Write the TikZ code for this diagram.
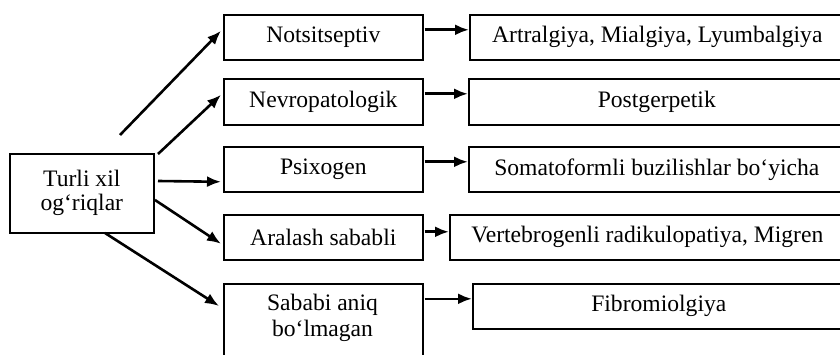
\documentclass[tikz,border=0pt]{standalone}
\usepackage{fontspec}
\setmainfont{Liberation Serif}
\usetikzlibrary{arrows.meta,calc}
\begin{document}
\begin{tikzpicture}[x=1pt,y=-1pt,
  box/.style={draw=black,line width=1.6pt,inner sep=0pt,anchor=north west,align=center,
    font=\fontsize{23.6}{24}\selectfont},
  lbl/.style={inner sep=0pt,align=center,font=\fontsize{23.6}{26}\selectfont},
  arr/.style={line width=2.6pt,-{Latex[length=14pt,width=11pt]}}]
\useasboundingbox (0,0) rectangle (840,355);
\clip (0,0) rectangle (840,355);
\fill[white] (0,0) rectangle (840,355);
% left box
\node[box,minimum width=144pt,minimum height=79pt] (L) at (9,153) {Turli xil\\og‘riqlar};
% middle boxes
\node[box,minimum width=199pt,minimum height=45pt] (m1) at (223,14) {Notsitseptiv};
\node[box,minimum width=199pt,minimum height=46pt] (m2) at (223,78) {Nevropatologik};
\node[box,minimum width=199pt,minimum height=45pt] (m3) at (223,146) {Psixogen};
\node[box,minimum width=199pt,minimum height=45pt] (m4) at (223,214) {Aralash sababli};
\node[box,minimum width=199pt,minimum height=95pt] (m5) at (223,283) {};
\node[lbl,anchor=north] (m5t) at (322.5,294) {Sababi aniq\\bo‘lmagan};
% right boxes
\node[box,minimum width=375pt,minimum height=45pt] (r1) at (469,14) {Artralgiya, Mialgiya, Lyumbalgiya};
\node[box,minimum width=376pt,minimum height=46pt] (r2) at (468,78) {Postgerpetik};
\node[box,minimum width=376pt,minimum height=45pt] (r3) at (468,146) {Somatoformli buzilishlar bo‘yicha};
\node[box,minimum width=395pt,minimum height=45pt] (r4) at (449,214) {Vertebrogenli radikulopatiya, Migren};
\node[box,minimum width=372pt,minimum height=45pt] (r5) at (472,283) {Fibromiolgiya};
% start points of the fan arrows
\coordinate (sA) at (120,135);
\coordinate (sB) at (158,154);
\coordinate (sC) at (158,181);
\coordinate (sD) at (155,200);
\coordinate (sE) at (105,233);
\draw[arr] (sA) -- ([xshift=-2pt,yshift=6.5pt]m1.west);
\draw[arr] (sB) -- ([xshift=-2pt,yshift=7pt]m2.west);
\draw[arr] (sC) -- ([xshift=-2pt,yshift=-12.5pt]m3.west);
\draw[arr] (sD) -- ([xshift=-2pt,yshift=-6.5pt]m4.west);
\draw[arr] (sE) -- ([xshift=-4pt,yshift=-23pt]m5.north west);
% middle to right
\draw[arr] ([xshift=1pt,yshift=7.5pt]m1.east) -- ([yshift=7.5pt]r1.west);
\draw[arr] ([xshift=1pt,yshift=8pt]m2.east) -- ([yshift=8pt]r2.west);
\draw[arr] ([xshift=1pt,yshift=7.5pt]m3.east) -- ([yshift=7.5pt]r3.west);
\draw[arr] ([xshift=1pt,yshift=5.5pt]m4.east) -- ([yshift=5.5pt]r4.west);
\draw[arr] ([xshift=1pt,yshift=7.5pt]r5.west -| m5.east) -- ([yshift=7.5pt]r5.west);
\end{tikzpicture}
\end{document}
